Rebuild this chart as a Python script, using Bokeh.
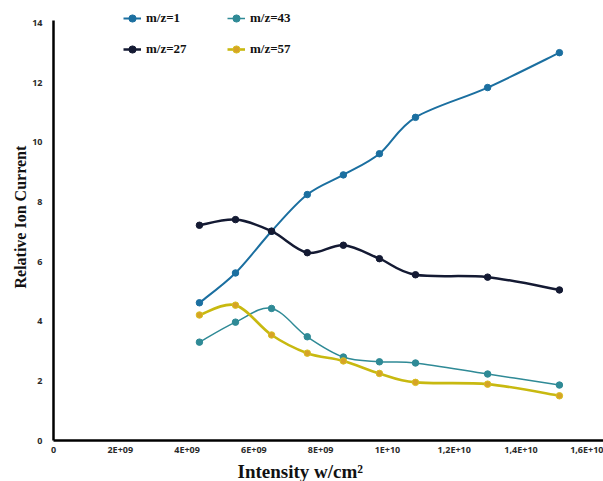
from bokeh.plotting import figure
from bokeh.models import Legend, LegendItem, FixedTicker, Range1d, ColumnDataSource, Title
from bokeh.embed import file_html
from bokeh.resources import INLINE

# ---- data ----
intensity = [4.37e9, 5.45e9, 6.53e9, 7.60e9, 8.68e9, 9.76e9, 1.084e10, 1.30e10, 1.515e10]
mz1 = [4.62, 5.62, 7.02, 8.25, 8.91, 9.62, 10.84, 11.84, 13.01]
mz27 = [7.22, 7.41, 7.02, 6.30, 6.55, 6.10, 5.56, 5.48, 5.05]
mz43 = [3.30, 3.97, 4.43, 3.48, 2.80, 2.64, 2.60, 2.23, 1.86]
mz57 = [4.21, 4.54, 3.54, 2.93, 2.67, 2.25, 1.95, 1.89, 1.50]
x_ticks = [0, 2e9, 4e9, 6e9, 8e9, 1e10, 1.2e10, 1.4e10, 1.6e10]
x_tick_labels = ["0", "2E+09", "4E+09", "6E+09", "8E+09", "1E+10", "1,2E+10", "1,4E+10", "1,6E+10"]
y_ticks = [0, 2, 4, 6, 8, 10, 12, 14]

p = figure(width=603, height=481, output_backend="svg", toolbar_location=None,
           x_range=Range1d(0, 1.647e10), y_range=Range1d(0, 14.76),
           min_border_left=53, min_border_right=0, min_border_top=0, min_border_bottom=40)
p.background_fill_color = "white"
p.border_fill_color = "white"
p.outline_line_color = None
p.xgrid.grid_line_color = None
p.ygrid.grid_line_color = None


def bezier_source(xs, ys):
    n = len(xs)
    x0, y0, x1, y1, cx0, cy0, cx1, cy1 = [], [], [], [], [], [], [], []
    for i in range(n - 1):
        xm = xs[i - 1] if i > 0 else xs[i]
        ym = ys[i - 1] if i > 0 else ys[i]
        xp = xs[i + 2] if i + 2 < n else xs[i + 1]
        yp = ys[i + 2] if i + 2 < n else ys[i + 1]
        x0.append(xs[i]); y0.append(ys[i]); x1.append(xs[i + 1]); y1.append(ys[i + 1])
        cx0.append(xs[i] + (xs[i + 1] - xm) / 6.0)
        cy0.append(ys[i] + (ys[i + 1] - ym) / 6.0)
        cx1.append(xs[i + 1] - (xp - xs[i]) / 6.0)
        cy1.append(ys[i + 1] - (yp - ys[i]) / 6.0)
    return ColumnDataSource(dict(x0=x0, y0=y0, x1=x1, y1=y1, cx0=cx0, cy0=cy0, cx1=cx1, cy1=cy1))


series = [
    ("m/z=1", mz1, "#1b6fa0", "#1b6fa0", "#1b6fa0", 2.0),
    ("m/z=43", mz43, "#2f8a96", "#2f8a96", "#2f8a96", 1.5),
    ("m/z=27", mz27, "#141a33", "#141a33", "#141a33", 2.5),
    ("m/z=57", mz57, "#c8b910", "#d6a326", "#d8c020", 2.6),
]
items = {}
for name, ys, lc, mfill, mline, lw in series:
    src = bezier_source(intensity, ys)
    b = p.bezier(x0="x0", y0="y0", x1="x1", y1="y1", cx0="cx0", cy0="cy0", cx1="cx1", cy1="cy1",
                 source=src, line_color=lc, line_width=lw)
    s = p.scatter(intensity, ys, size=6.5, fill_color=mfill, line_color=mline, line_width=1)
    items[name] = LegendItem(label=name, renderers=[b, s])

legend = Legend(items=[items["m/z=1"], items["m/z=27"], items["m/z=43"], items["m/z=57"]],
                ncols=2, location=(70, 381), glyph_width=18, glyph_height=20,
                label_width=70, label_height=20, spacing=11, padding=0, margin=0,
                label_standoff=5, label_text_font="Liberation Serif",
                label_text_font_style="bold", label_text_font_size="13px",
                label_text_color="#111111", border_line_color=None,
                background_fill_alpha=0)
p.add_layout(legend, "center")

for ax in (p.xaxis[0], p.yaxis[0]):
    ax.axis_line_color = "black"
    ax.axis_line_width = 2.5
    ax.major_tick_line_color = None
    ax.minor_tick_line_color = None
    ax.major_tick_out = 0
    ax.major_tick_in = 0
    ax.minor_tick_out = 0
    ax.minor_tick_in = 0
    ax.major_label_text_font = "Open Sans"
    ax.major_label_text_font_style = "bold"
    ax.major_label_text_font_size = "9px"
    ax.major_label_text_color = "#2a2a2a"

p.xaxis.ticker = FixedTicker(ticks=x_ticks)
p.xaxis.major_label_overrides = {t: l for t, l in zip(x_ticks, x_tick_labels)}
p.xaxis.major_label_standoff = 2

p.yaxis.ticker = FixedTicker(ticks=y_ticks)
p.yaxis.major_label_standoff = 11
p.yaxis.bounds = (0, 14.1)

xtitle = Title(text="Intensity  w/cm²", align="left", offset=184, standoff=0,
               text_font="Liberation Serif", text_font_style="bold",
               text_font_size="19px", text_color="#111111")
ytitle = Title(text="Relative Ion Current", align="left", offset=152, standoff=2,
               text_font="Liberation Serif", text_font_style="bold",
               text_font_size="16px", text_color="#111111")
p.add_layout(xtitle, "below")
p.add_layout(ytitle, "left")

open("out.html", "w").write(file_html(p, INLINE))
